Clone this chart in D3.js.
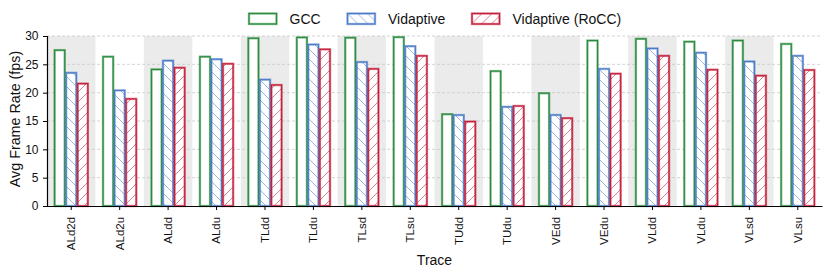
<!DOCTYPE html>
<html><head><meta charset="utf-8">
<script src="https://cdn.jsdelivr.net/npm/d3@7/dist/d3.min.js"></script>
<style>body{margin:0;background:#fff}svg{display:block;font-family:"Liberation Sans",Arial,sans-serif}</style>
</head><body><svg id="c" width="830" height="274"></svg>
<script>
const categories = ["ALd2d","ALd2u","ALdd","ALdu","TLdd","TLdu","TLsd","TLsu","TUdd","TUdu","VEdd","VEdu","VLdd","VLdu","VLsd","VLsu"];
const seriesNames = ["GCC","Vidaptive","Vidaptive (RoCC)"];
const gcc       = [27.5,26.35,24.1,26.35,29.6,29.75,29.7,29.8,16.2,23.8,19.9,29.2,29.5,29.0,29.2,28.6];
const vidaptive = [23.5,20.4,25.65,25.9,22.3,28.5,25.4,28.2,16.05,17.5,16.06,24.2,27.8,27.05,25.5,26.5];
const rocc      = [21.6,18.9,24.4,25.1,21.35,27.65,24.2,26.5,14.9,17.65,15.5,23.35,26.5,24.05,23.0,24.0];
const yTicks = [0,5,10,15,20,25,30];
const colors = ["#2a8a3e","#4a7bc6","#c41e3a"];
const hatches = [null,"back","fwd"];
const values = [gcc, vidaptive, rocc];

const svg = d3.select("#c");
const m = {l:47, r:822, t:36, b:206};
const x = d3.scaleBand().domain(categories).range([m.l, m.r]).padding(0);
const y = d3.scaleLinear().domain([0,30]).range([m.b, m.t]);

const defs = svg.append("defs");
function pat(id, color, dir){
  const p = defs.append("pattern").attr("id",id).attr("patternUnits","userSpaceOnUse")
    .attr("width",10).attr("height",10);
  const l = dir==="back" ? [[0,0,10,10],[-5,5,5,15],[5,-5,15,5]] : [[0,10,10,0],[-5,5,5,-5],[5,15,15,5]];
  l.forEach(d=>p.append("line").attr("x1",d[0]).attr("y1",d[1]).attr("x2",d[2]).attr("y2",d[3])
    .attr("stroke",color).attr("stroke-width",0.8).attr("stroke-opacity",0.7));
}
pat("hb", colors[1], "back");
pat("hf", colors[2], "fwd");

// bands
svg.append("g").selectAll("rect").data(categories.filter((d,i)=>i%2===0)).join("rect")
  .attr("x", d=>x(d)).attr("y", m.t).attr("width", x.bandwidth()).attr("height", m.b-m.t)
  .attr("fill","#ebebeb");

// grid
svg.append("g").selectAll("line").data(yTicks.filter(t=>t>0)).join("line")
  .attr("x1",m.l).attr("x2",m.r).attr("y1",d=>y(d)).attr("y2",d=>y(d))
  .attr("stroke","#c8c8c8").attr("stroke-width",0.8).attr("stroke-dasharray","3,2");

// bars
const xs = d3.scaleBand().domain(seriesNames).range([-18,18]).padding(0.12);
seriesNames.forEach((s,si)=>{
  const g = svg.append("g");
  const data = categories.map((c,i)=>({c, v:values[si][i]}));
  const bx = d=>x(d.c)+x.bandwidth()/2+xs(s);
  g.selectAll("rect.o").data(data).join("rect").attr("class","o")
    .attr("x",bx).attr("y",d=>y(d.v)).attr("width",xs.bandwidth()).attr("height",d=>y(0)-y(d.v))
    .attr("fill","#fff").attr("stroke",colors[si]).attr("stroke-width",2.4).attr("stroke-opacity",0.55);
  if(hatches[si]) g.selectAll("rect.h").data(data).join("rect").attr("class","h")
    .attr("x",bx).attr("y",d=>y(d.v)).attr("width",xs.bandwidth()).attr("height",d=>y(0)-y(d.v))
    .attr("fill", si===1?"url(#hb)":"url(#hf)");
  g.selectAll("rect.i").data(data).join("rect").attr("class","i")
    .attr("x",bx).attr("y",d=>y(d.v)).attr("width",xs.bandwidth()).attr("height",d=>y(0)-y(d.v))
    .attr("fill","none").attr("stroke",colors[si]).attr("stroke-width",1.1);
});

// axes
const ya = svg.append("g").attr("transform",`translate(${m.l},0)`)
  .call(d3.axisLeft(y).tickValues(yTicks).tickSize(4).tickPadding(4.5));
ya.select(".domain").attr("stroke","#000").attr("stroke-width",1.2);
ya.selectAll("text").attr("font-size",12).attr("fill","#111").attr("font-family","Liberation Sans, Arial, sans-serif");
const xa = svg.append("g").attr("transform",`translate(0,${m.b})`)
  .call(d3.axisBottom(x).tickSize(4).tickPadding(3).tickSizeOuter(0));
xa.select(".domain").attr("stroke","#000").attr("stroke-width",1.2);
xa.selectAll("text").attr("font-size",11.5).attr("fill","#111").attr("font-family","Liberation Sans, Arial, sans-serif")
  .attr("transform","rotate(-90)").attr("text-anchor","end").attr("dx","-0.6em").attr("dy","0.34em").attr("y",0).attr("x",-4);

svg.append("text").attr("x",(m.l+m.r)/2).attr("y",265).attr("text-anchor","middle")
  .attr("font-size",14).attr("fill","#111").text("Trace");
svg.append("text").attr("transform",`translate(20,${(m.t+m.b)/2-2}) rotate(-90)`).attr("text-anchor","middle")
  .attr("font-size",14.3).attr("fill","#111").text("Avg Frame Rate (fps)");

// legend
const legX = [249, 347.5, 472];
seriesNames.forEach((s,i)=>{
  const g = svg.append("g").attr("transform",`translate(${legX[i]},13.5)`);
  g.append("rect").attr("width",27.5).attr("height",10.5).attr("fill","#fff")
    .attr("stroke",colors[i]).attr("stroke-width",2.4).attr("stroke-opacity",0.55);
  if(hatches[i]) g.append("rect").attr("width",27.5).attr("height",10.5).attr("fill", i===1?"url(#hb)":"url(#hf)");
  g.append("rect").attr("width",27.5).attr("height",10.5).attr("fill","none").attr("stroke",colors[i]).attr("stroke-width",1.1);
  g.append("text").attr("x",40.5).attr("y",10).attr("font-size",14).attr("fill","#111").text(s);
});
</script></body></html>
